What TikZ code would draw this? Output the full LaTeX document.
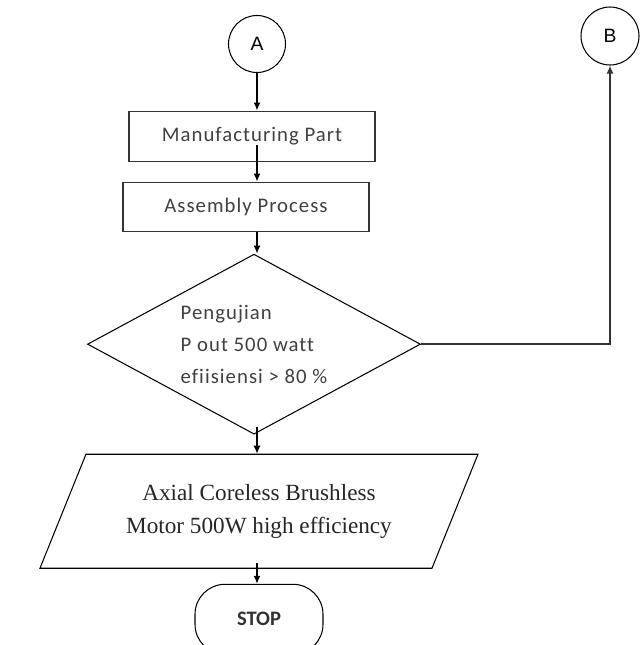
\documentclass[tikz,border=0pt]{standalone}
\usepackage{fontspec}
\usetikzlibrary{positioning, arrows.meta, shapes.geometric}
\newfontfamily\arialfont{Liberation Sans}
\newfontfamily\calfont[LetterSpace=5, Ligatures=NoCommon]{Carlito}
\newfontfamily\calplain{Carlito}
\newfontfamily\timesfont[Ligatures=NoCommon]{Liberation Serif}

\begin{document}
\begin{tikzpicture}[>={Latex[length=1.6mm, width=1.4mm]},
    every path/.style={line width=0.6pt},
    conn/.style={draw, circle, minimum size=1.14cm, inner sep=0pt,
        font=\arialfont\fontsize{11}{13}\selectfont},
    procbox/.style={draw=black!80, rectangle, minimum width=4.92cm, minimum height=1cm,
        text=black!75, font=\calfont\fontsize{11.8}{14}\selectfont},
    flow/.style={->, line width=0.8pt}
]
\useasboundingbox (0,0) rectangle (12.78,-12.9);

% Start connector and process boxes
\node (A) [conn] at (5.14,-0.88) {A};
\node (mfg) [procbox, below=0.75cm of A, xshift=-0.1cm] {Manufacturing Part};
\node (asm) [procbox, minimum height=0.98cm, below=0.4cm of mfg, xshift=-0.12cm] {Assembly Process};

% Decision
\node (test) [draw, diamond, shape aspect=1.85, minimum width=6.66cm, minimum height=3.6cm,
    inner sep=0pt, align=left, text=black!75, font=\calfont\fontsize{11.8}{18.2}\selectfont,
    below=0.44cm of asm, xshift=0.16cm] {Pengujian\\P out 500 watt\\efiisiensi > 80 \%};

% Output and end
\node (out) [draw, trapezium, trapezium left angle=55, trapezium right angle=125,
    trapezium stretches body, minimum width=8.76cm, minimum height=2.28cm, align=center,
    text=black!85, font=\timesfont\fontsize{13.2}{18.7}\selectfont,
    below=0.38cm of test, xshift=0.1cm] {Axial Coreless Brushless\\Motor 500W high efficiency};
\node (stop) [draw, rectangle, rounded corners=0.6cm, minimum width=2.56cm, minimum height=1.4cm,
    text=black!80, font=\calplain\bfseries\fontsize{11.7}{14}\selectfont,
    below=0.3cm of out] {STOP};

% Off-page connector
\node (B) [conn, minimum size=1.16cm] at (12.2,-0.72) {B};

% Connection arrows
\draw[flow] (A) -- (mfg.north -| A);
\draw[flow] ([yshift=0.34cm]mfg.south -| A) -- (asm.north -| A);
\draw[flow] (asm.south -| A) -- (test.north -| A);
\draw[flow] ([yshift=0.16cm]test.south -| A) -- (out.north -| A);
\draw[flow] ([yshift=0.12cm]out.south -| A) -- (stop.north -| A);
\draw[flow, draw=black!80] (test.east) -| (B.south);

\end{tikzpicture}
\end{document}
